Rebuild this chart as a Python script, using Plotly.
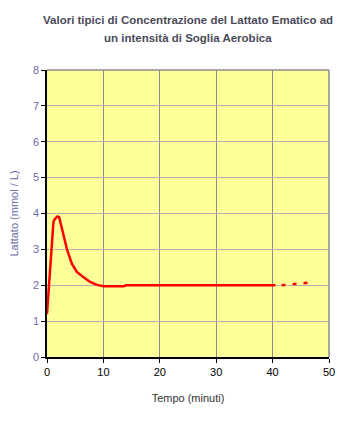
import plotly.graph_objects as go

# Data
time_solid = [0, 0.15, 0.35, 0.55, 0.75, 0.95, 1.15, 1.45, 1.85, 2.15, 2.6, 2.9, 3.2, 3.6, 4.4, 5.3, 6.5, 7.65, 8.85, 10.0, 13.6, 14.0, 20, 30, 40.5]
lactate_solid = [1.2, 1.55, 1.9, 2.65, 3.0, 3.58, 3.78, 3.86, 3.92, 3.9, 3.62, 3.44, 3.25, 2.97, 2.6, 2.37, 2.22, 2.09, 2.01, 1.97, 1.97, 2.0, 2.0, 2.0, 2.0]
time_proj = [41.6, 44.0, 46.3]
lactate_proj = [2.0, 2.03, 2.07]

x_ticks = [0, 10, 20, 30, 40, 50]
y_ticks = [0, 1, 2, 3, 4, 5, 6, 7, 8]

title_lines = ["Valori tipici di Concentrazione del Lattato Ematico ad",
               "un intensità di Soglia Aerobica"]
x_title = "Tempo (minuti)"
y_title = "Lattato (mmol / L)"

fig = go.Figure()
fig.add_trace(go.Scatter(x=time_solid, y=lactate_solid, mode="lines",
                         line=dict(color="#ff0000", width=2.5), hoverinfo="skip"))
fig.add_trace(go.Scatter(x=time_proj, y=lactate_proj, mode="lines",
                         line=dict(color="#ff0000", width=2.5, dash="4px,7px"), hoverinfo="skip"))

font_family = "Liberation Sans, Arial, sans-serif"
H = 424

annotations = []
for i, line in enumerate(title_lines):
    annotations.append(dict(text="<b>" + line + "</b>", xref="paper", yref="paper",
                            x=0.5, xanchor="center",
                            y=1 + (70 - (20 + 18 * i)) / (H - 70 - 67), yanchor="middle",
                            showarrow=False,
                            font=dict(family=font_family, size=11.5, color="#4a4a5a")))

fig.update_layout(
    width=355, height=H,
    margin=dict(l=47, r=26, t=70, b=67),
    paper_bgcolor="white",
    plot_bgcolor="#ffff99",
    showlegend=False,
    font=dict(family=font_family, size=11, color="#000000"),
    annotations=annotations,
    xaxis=dict(range=[0, 50], tickvals=x_ticks, ticks="outside", ticklen=4, tickcolor="#000",
               showline=True, linecolor="#000", linewidth=1.5, mirror=False,
               showgrid=True, gridcolor="#8c8c8c", gridwidth=1, zeroline=False,
               tickfont=dict(size=11, color="#000"), automargin=False,
               title=dict(text=x_title, font=dict(size=11, color="#333333"), standoff=17),
               fixedrange=True),
    yaxis=dict(range=[0, 8], tickvals=y_ticks, ticks="outside", ticklen=4, tickcolor="#000",
               showline=True, linecolor="#000", linewidth=1.5,
               showgrid=True, gridcolor="#b4b4b4", gridwidth=1, zeroline=False,
               tickfont=dict(size=11, color="#6a6aa8"), automargin=False,
               title=dict(text=y_title, font=dict(size=11, color="#6a6aa8"), standoff=12),
               fixedrange=True),
    shapes=[
        dict(type="line", xref="paper", yref="paper", x0=1, x1=1, y0=0, y1=1,
             line=dict(color="#8c8c8c", width=1.5)),
        dict(type="line", xref="paper", yref="paper", x0=0, x1=1, y0=1, y1=1,
             line=dict(color="#8c8c8c", width=1.5)),
    ],
)

fig.write_html("out.html", config={"displayModeBar": False},
               post_script="document.body.style.margin='0';")
